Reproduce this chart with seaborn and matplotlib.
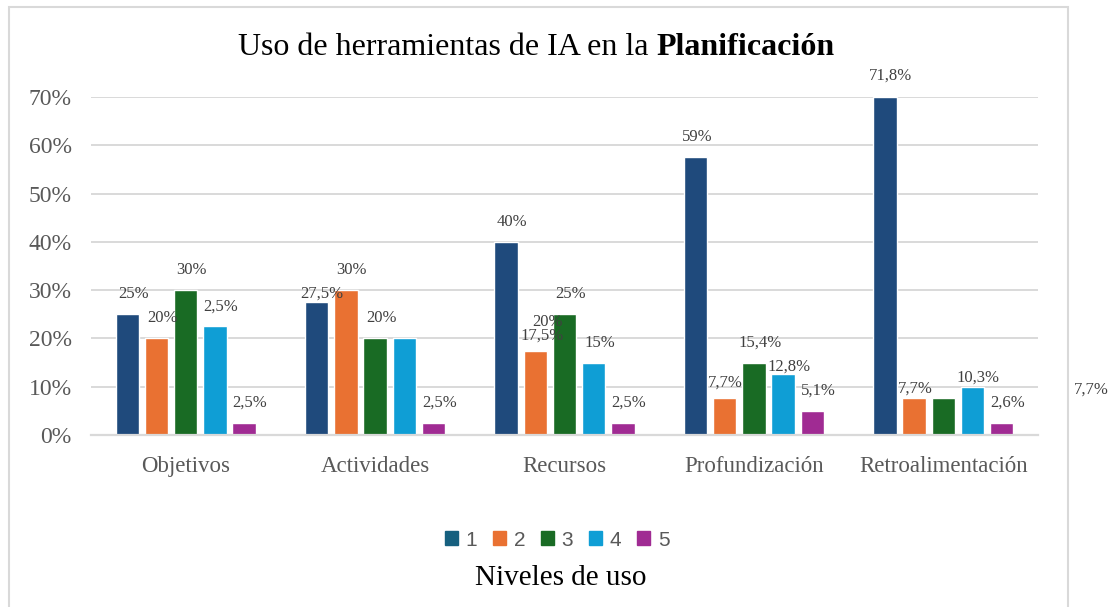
import pandas as pd
import matplotlib
matplotlib.use("Agg")
import matplotlib.pyplot as plt
import seaborn as sns
from matplotlib.patches import Rectangle
from matplotlib.ticker import FuncFormatter

categorias = ["Objetivos", "Actividades", "Recursos", "Profundización", "Retroalimentación"]
niveles = ["1", "2", "3", "4", "5"]

nivel_1 = [25, 27.5, 40, 57.5, 70]
nivel_2 = [20, 30, 17.5, 7.7, 7.7]
nivel_3 = [30, 20, 25, 15, 7.7]
nivel_4 = [22.5, 20, 15, 12.6, 10]
nivel_5 = [2.5, 2.5, 2.5, 5, 2.5]

# etiquetas tal como aparecen en el grafico original
etiquetas_1 = ["25%", "27,5%", "40%", "59%", "71,8%"]
etiquetas_2 = ["20%", "30%", "17,5%", "7,7%", "7,7%"]
etiquetas_3 = ["30%", "20%", "25%", "15,4%", ""]
etiquetas_4 = ["2,5%", "", "15%", "12,8%", "10,3%"]
etiquetas_5 = ["2,5%", "2,5%", "2,5%", "5,1%", "2,6%"]

colores = ["#1F4A7C", "#E97132", "#196B24", "#0F9ED5", "#A02B93"]

valores = [nivel_1, nivel_2, nivel_3, nivel_4, nivel_5]
etiquetas = [etiquetas_1, etiquetas_2, etiquetas_3, etiquetas_4, etiquetas_5]

df = pd.DataFrame({
    "Categoria": categorias * len(niveles),
    "Nivel": [n for n in niveles for _ in categorias],
    "Porcentaje": [v for serie in valores for v in serie],
})

sns.set_style("white")
plt.rcParams["font.family"] = ["Liberation Serif", "DejaVu Serif"]

fig = plt.figure(figsize=(11.17, 6.07), dpi=100)
W, H = 1117, 607
ax = fig.add_axes([91 / W, 1 - 435 / H, (1038 - 91) / W, (435 - 97) / H])

sns.barplot(data=df, x="Categoria", y="Porcentaje", hue="Nivel",
            palette=colores, width=0.77, gap=0.2, saturation=1,
            legend=False, ax=ax)

ax.set_ylim(0, 70)
ax.set_yticks(range(0, 71, 10))
ax.yaxis.set_major_formatter(FuncFormatter(lambda v, p: f"{int(v)}%"))
ax.grid(axis="y", color="#D9D9D9", linewidth=1.4)
ax.set_axisbelow(True)
for s in ["top", "right", "left"]:
    ax.spines[s].set_visible(False)
ax.spines["bottom"].set_color("#D9D9D9")
ax.spines["bottom"].set_linewidth(1.6)
ax.tick_params(axis="y", labelsize=17, labelcolor="#595959", length=0, pad=14)
ax.tick_params(axis="x", labelsize=16.5, labelcolor="#595959", length=0, pad=15)
ax.set_xlabel("")
ax.set_ylabel("")

# desplazamientos (pixeles) de algunas etiquetas respecto al centro superior de la barra
desplaz = {
    (0, 1): (5, 9), (1, 2): (7, 15), (1, 3): (1, 15), (3, 3): (6, 8),
    (3, 4): (6, 9), (1, 4): (1, 9), (0, 3): (2, 20), (0, 4): (6, 21),
}
for i, cont in enumerate(ax.containers):
    for j, barra in enumerate(cont):
        texto = etiquetas[i][j]
        if not texto:
            continue
        dx, dy = desplaz.get((i, j), (6, 20))
        ax.annotate(texto, (barra.get_x() + barra.get_width() / 2, barra.get_height()),
                    xytext=(dx, dy), textcoords="offset pixels",
                    ha="center", va="center", fontsize=12, color="#404040",
                    annotation_clip=False)

# etiqueta extra superpuesta en Recursos y la desplazada fuera del marco
barra = ax.containers[1][2]
ax.annotate("20%", (barra.get_x() + barra.get_width() / 2, barra.get_height()),
            xytext=(12, 28), textcoords="offset pixels", ha="center", va="center",
            fontsize=12, color="#404040", annotation_clip=False)
fig.text(1091 / W, 1 - 390 / H, "7,7%", ha="center", va="center",
         fontsize=12, color="#404040")

# titulo con parte en negrita
t1 = fig.text(0, 1 - 55 / H, "Uso de herramientas de IA en la ", fontsize=23,
              color="black", va="baseline")
t2 = fig.text(0, 1 - 55 / H, "Planificación", fontsize=23, fontweight="bold",
              color="black", va="baseline")
fig.canvas.draw()
r = fig.canvas.get_renderer()
w1 = t1.get_window_extent(r).width
w2 = t2.get_window_extent(r).width
x0 = 536 - (w1 + w2) / 2
t1.set_x(x0 / W)
t2.set_x((x0 + w1) / W)

# leyenda
handles = [Rectangle((0, 0), 1, 1, color=c) for c in ["#16607F"] + colores[1:]]
fig.legend(handles, niveles, loc="center", bbox_to_anchor=(557 / W, 1 - 540 / H),
           ncol=5, frameon=False, handlelength=0.65, handleheight=0.65,
           handletextpad=0.35, columnspacing=0.75,
           prop={"family": "Liberation Sans", "size": 15}, labelcolor="#595959")
fig.text(561 / W, 1 - 578 / H, "Niveles de uso", ha="center", va="center",
         fontsize=21, color="black")

# marco del grafico
fig.patches.append(Rectangle((9 / W, -0.01), (1068 - 9) / W, 1.01 - 7 / H,
                             transform=fig.transFigure, fill=False,
                             edgecolor="#D9D9D9", linewidth=1.5))

fig.savefig("out.png", dpi=100)
